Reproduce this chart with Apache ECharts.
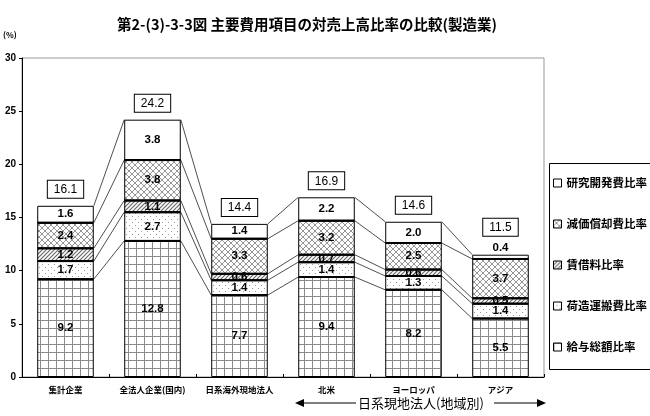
<!DOCTYPE html>
<html>
<head>
    <meta charset="UTF-8">
    <title>主要費用項目の対売上高比率の比較</title>
    <script src="https://cdn.jsdelivr.net/npm/echarts@6/dist/echarts.min.js"></script>
    <style>
        html, body { margin: 0; padding: 0; background: #fff; }
        #main { width: 650px; height: 416px; }
    </style>
</head>
<body>
<div id="main"></div>
<script type="text/javascript">
    // データ（下から積み上げ順）
    var categories = ['集計企業', '全法人企業(国内)', '日系海外現地法人', '北米', 'ヨーロッパ', 'アジア'];
    var salary = [9.2, 12.8, 7.7, 9.4, 8.2, 5.5];        // 給与総額比率
    var freight = [1.7, 2.7, 1.4, 1.4, 1.3, 1.4];        // 荷造運搬費比率
    var rent = [1.2, 1.1, 0.6, 0.7, 0.6, 0.5];           // 賃借料比率
    var depreciation = [2.4, 3.8, 3.3, 3.2, 2.5, 3.7];   // 減価償却費比率
    var research = [1.6, 3.8, 1.4, 2.2, 2.0, 0.4];       // 研究開発費比率
    var totals = [16.1, 24.2, 14.4, 16.9, 14.6, 11.5];
    var yTicks = [0, 5, 10, 15, 20, 25, 30];

    var seriesNames = ['給与総額比率', '荷造運搬費比率', '賃借料比率', '減価償却費比率', '研究開発費比率'];
    var seriesData = [salary, freight, rent, depreciation, research];

    var numFont = 'Liberation Sans, Arial, sans-serif';
    var jpFont = 'Noto Sans CJK JP, sans-serif';
    var BAR_RATIO = 0.65;

    // 塗りつぶしパターン
    function makePattern(size, draw) {
        var c = document.createElement('canvas');
        c.width = size; c.height = size;
        var ctx = c.getContext('2d');
        ctx.fillStyle = '#fff';
        ctx.fillRect(0, 0, size, size);
        draw(ctx, size);
        return { image: c, repeat: 'repeat' };
    }
    var patGrid = makePattern(8, function (ctx, s) {
        ctx.fillStyle = '#8a8a8a';
        ctx.fillRect(0, 0, s, 1);
        ctx.fillRect(0, 0, 1, s);
    });
    var patDots = makePattern(6, function (ctx) {
        ctx.fillStyle = '#9a9a9a';
        ctx.fillRect(0, 0, 1, 1);
        ctx.fillRect(3, 3, 1, 1);
    });
    var patHatch = makePattern(4, function (ctx, s) {
        ctx.strokeStyle = '#6a6a6a';
        ctx.lineWidth = 1.2;
        ctx.beginPath();
        ctx.moveTo(0, s); ctx.lineTo(s, 0);
        ctx.moveTo(-1, 1); ctx.lineTo(1, -1);
        ctx.moveTo(s - 1, s + 1); ctx.lineTo(s + 1, s - 1);
        ctx.stroke();
    });
    var patCross = makePattern(6, function (ctx, s) {
        ctx.strokeStyle = '#8a8a8a';
        ctx.lineWidth = 0.9;
        ctx.beginPath();
        ctx.moveTo(0, 0); ctx.lineTo(s, s);
        ctx.moveTo(0, s); ctx.lineTo(s, 0);
        ctx.stroke();
    });
    var fills = [patGrid, patDots, patHatch, patCross, '#fff'];

    // 累積値（系列線用）
    var cum = [];
    var running = categories.map(function () { return 0; });
    seriesData.forEach(function (arr) {
        running = running.map(function (v, i) { return +(v + arr[i]).toFixed(2); });
        cum.push(running.slice());
    });

    var barSeries = seriesData.map(function (arr, si) {
        var isTop = si === seriesData.length - 1;
        return {
            name: seriesNames[si],
            type: 'bar',
            stack: 'total',
            barWidth: (BAR_RATIO * 100) + '%',
            itemStyle: { color: fills[si], borderColor: '#000', borderWidth: 1 },
            label: {
                show: true,
                position: 'inside',
                color: '#000',
                fontFamily: numFont,
                fontWeight: 'bold',
                fontSize: 11.5,
                formatter: function (p) { return (+p.value).toFixed(1); }
            },
            data: arr.map(function (v) {
                if (isTop && v < 1) {
                    return { value: v, label: { position: 'top', distance: 1 } };
                }
                return v;
            })
        };
    });

    // 区分線と系列線
    var linesSeries = {
        type: 'custom',
        silent: true,
        z: 5,
        renderItem: function (params, api) {
            var i = params.dataIndex;
            var catW = api.size([1, 0])[0];
            var half = catW * BAR_RATIO / 2;
            var children = [];
            cum.forEach(function (lv, k) {
                var p = api.coord([i, lv[i]]);
                if (k < cum.length - 1) {
                    children.push({
                        type: 'line',
                        shape: { x1: p[0] - half, y1: p[1], x2: p[0] + half, y2: p[1] },
                        style: { stroke: '#000', lineWidth: 2 }
                    });
                }
                if (i < categories.length - 1) {
                    var q = api.coord([i + 1, lv[i + 1]]);
                    children.push({
                        type: 'line',
                        shape: { x1: p[0] + half, y1: p[1], x2: q[0] - half, y2: q[1] },
                        style: { stroke: '#222', lineWidth: 0.8 }
                    });
                }
            });
            return { type: 'group', children: children };
        },
        data: categories.map(function (c, i) { return [i, totals[i]]; })
    };

    // 合計値の枠付きラベル
    var totalSeries = {
        type: 'custom',
        silent: true,
        z: 6,
        renderItem: function (params, api) {
            var i = params.dataIndex;
            var p = api.coord([i, totals[i]]);
            var lift = research[i] < 1 ? 11 : 0;
            return {
                type: 'text',
                x: p[0],
                y: p[1] - 8 - lift,
                style: {
                    text: totals[i].toFixed(1),
                    align: 'center',
                    verticalAlign: 'bottom',
                    fill: '#000',
                    font: '12px ' + numFont,
                    backgroundColor: '#fff',
                    borderColor: '#000',
                    borderWidth: 1,
                    padding: [3, 6, 2, 6]
                }
            };
        },
        data: categories.map(function (c, i) { return [i, totals[i]]; })
    };

    var myChart = echarts.init(document.getElementById('main'), null, { renderer: 'canvas' });

    var option = {
        animation: false,
        backgroundColor: '#fff',
        title: {
            text: '第2-(3)-3-3図 主要費用項目の対売上高比率の比較(製造業)',
            left: 117,
            top: 17,
            padding: 0,
            textStyle: { fontFamily: jpFont, fontSize: 14.5, fontWeight: 'bold', color: '#000' }
        },
        legend: {
            data: seriesNames.slice().reverse(),
            orient: 'vertical',
            left: 553,
            top: 177,
            itemWidth: 8,
            itemHeight: 8,
            itemGap: 29,
            padding: 0,
            icon: 'rect',
            itemStyle: { borderColor: '#000', borderWidth: 1 },
            textStyle: { fontFamily: jpFont, fontSize: 11.5, fontWeight: 'bold', color: '#000', lineHeight: 12 }
        },
        grid: {
            left: 22, right: 106, top: 58, bottom: 39,
            show: true, borderColor: '#999', borderWidth: 1, backgroundColor: '#fff'
        },
        xAxis: {
            type: 'category',
            data: categories,
            axisLine: { lineStyle: { color: '#000', width: 1 } },
            axisTick: { show: true, inside: true, length: 3, lineStyle: { color: '#000' } },
            axisLabel: { color: '#000', fontFamily: jpFont, fontSize: 8.5, fontWeight: 'bold', margin: 9, interval: 0 }
        },
        yAxis: {
            type: 'value',
            min: yTicks[0],
            max: yTicks[yTicks.length - 1],
            interval: yTicks[1] - yTicks[0],
            splitLine: { show: false },
            axisLine: { show: true, lineStyle: { color: '#000', width: 1 } },
            axisTick: { show: true, length: 3, lineStyle: { color: '#000' } },
            axisLabel: { color: '#000', fontFamily: numFont, fontSize: 10, fontWeight: 'bold', margin: 6 }
        },
        graphic: [
            {
                type: 'rect',
                shape: { x: 549.5, y: 163.5, width: 110, height: 206 },
                style: { fill: 'none', stroke: '#000', lineWidth: 1 },
                z: 0
            },
            {
                type: 'text',
                x: 3, y: 35,
                style: { text: '(%)', font: 'bold 8px ' + jpFont, fill: '#000', verticalAlign: 'middle' }
            },
            {
                type: 'line',
                shape: { x1: 302, y1: 403, x2: 356, y2: 403 },
                style: { stroke: '#000', lineWidth: 1.2 }
            },
            {
                type: 'polygon',
                shape: { points: [[295, 403], [304, 399], [304, 407]] },
                style: { fill: '#000' }
            },
            {
                type: 'text',
                x: 421, y: 403,
                style: { text: '日系現地法人(地域別)', font: '13px ' + jpFont, fill: '#000', align: 'center', verticalAlign: 'middle' }
            },
            {
                type: 'line',
                shape: { x1: 494, y1: 403, x2: 538, y2: 403 },
                style: { stroke: '#000', lineWidth: 1.2 }
            },
            {
                type: 'polygon',
                shape: { points: [[546, 403], [537, 399], [537, 407]] },
                style: { fill: '#000' }
            }
        ],
        series: barSeries.concat([linesSeries, totalSeries])
    };

    myChart.setOption(option);
</script>
</body>
</html>
